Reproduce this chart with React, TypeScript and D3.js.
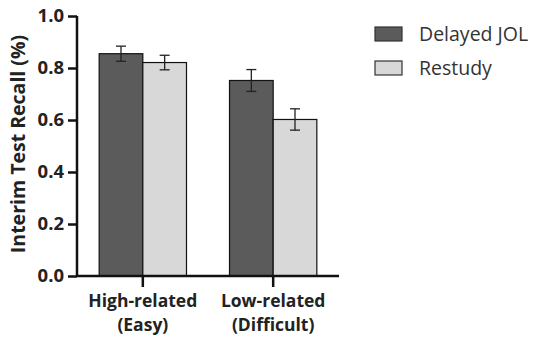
import React, { useEffect, useRef } from "react";
import * as d3 from "d3";

const groups = ["High-related\n(Easy)", "Low-related\n(Difficult)"];
const seriesNames = ["Delayed JOL", "Restudy"];
const seriesColors = ["#5b5b5b", "#d8d8d8"];
const delayedJOL = [0.855, 0.752];
const delayedErr = [0.029, 0.042];
const restudy = [0.821, 0.602];
const restudyErr = [0.028, 0.041];
const yTicks = [0, 0.2, 0.4, 0.6, 0.8, 1.0];

const font = "'Open Sans', 'Liberation Sans', Arial, sans-serif";

export default function App() {
  const ref = useRef<SVGSVGElement>(null);

  useEffect(() => {
    const svg = d3.select(ref.current);
    svg.selectAll("*").remove();

    const left = 77, right = 339, top = 16, bottom = 276;

    const x = d3.scaleBand().domain(groups).range([left, right]).paddingInner(0.33).paddingOuter(0.17);
    const xs = d3.scaleBand().domain(seriesNames).range([0, x.bandwidth()]);
    const y = d3.scaleLinear().domain([0, 1]).range([bottom, top]);

    const values = [delayedJOL, restudy];
    const errs = [delayedErr, restudyErr];

    const data = groups.flatMap((g, gi) =>
      seriesNames.map((s, si) => ({ g, s, si, v: values[si][gi], e: errs[si][gi] }))
    );

    const g = svg.append("g");

    g.selectAll("rect.bar")
      .data(data)
      .join("rect")
      .attr("class", "bar")
      .attr("x", (d) => x(d.g)! + xs(d.s)!)
      .attr("y", (d) => y(d.v))
      .attr("width", xs.bandwidth())
      .attr("height", (d) => y(0) - y(d.v))
      .attr("fill", (d) => seriesColors[d.si])
      .attr("stroke", "#111")
      .attr("stroke-width", 1.2);

    // error bars
    const eb = g.selectAll("g.err").data(data).join("g").attr("class", "err");
    eb.append("line")
      .attr("x1", (d) => x(d.g)! + xs(d.s)! + xs.bandwidth() / 2)
      .attr("x2", (d) => x(d.g)! + xs(d.s)! + xs.bandwidth() / 2)
      .attr("y1", (d) => y(d.v + d.e))
      .attr("y2", (d) => y(d.v - d.e));
    [1, -1].forEach((sgn) => {
      eb.append("line")
        .attr("x1", (d) => x(d.g)! + xs(d.s)! + xs.bandwidth() / 2 - 5)
        .attr("x2", (d) => x(d.g)! + xs(d.s)! + xs.bandwidth() / 2 + 5)
        .attr("y1", (d) => y(d.v + sgn * d.e))
        .attr("y2", (d) => y(d.v + sgn * d.e));
    });
    eb.selectAll("line").attr("stroke", "#222").attr("stroke-width", 1.3);

    // y axis
    const ya = g.append("g")
      .attr("transform", `translate(${left},0)`)
      .call(d3.axisLeft(y).tickValues(yTicks).tickFormat(d3.format(".1f")).tickSize(9).tickPadding(4));
    ya.select(".domain").attr("stroke", "#111").attr("stroke-width", 2.5)
      .attr("d", `M0,${top}V${bottom}`);
    ya.selectAll(".tick line").attr("stroke", "#111").attr("stroke-width", 2.5);
    ya.selectAll(".tick text")
      .attr("fill", "#222")
      .style("font-family", font)
      .style("font-size", "18.5px")
      .style("font-weight", "bold");

    // x axis
    const xa = g.append("g")
      .attr("transform", `translate(0,${bottom})`)
      .call(d3.axisBottom(x).tickSize(11));
    xa.selectAll(".tick text").remove();
    xa.select(".domain").attr("stroke", "#111").attr("stroke-width", 2.5)
      .attr("d", `M${left},0H${right}`);
    xa.selectAll(".tick line").attr("stroke", "#111").attr("stroke-width", 2.5);

    // two-line category labels, one text per line
    const lines = groups.flatMap((d) => d.split("\n").map((t, i) => ({ d, t, i })));
    g.selectAll("text.xl").data(lines).join("text")
      .attr("class", "xl")
      .attr("x", (l) => x(l.d)! + x.bandwidth() / 2)
      .attr("y", (l) => 307 + l.i * 24)
      .attr("text-anchor", "middle")
      .attr("fill", "#222")
      .style("font-family", font)
      .style("font-size", "17.5px")
      .style("font-weight", "bold")
      .text((l) => l.t);

    // y title
    g.append("text")
      .attr("transform", `translate(25,${144}) rotate(-90)`)
      .attr("text-anchor", "middle")
      .attr("fill", "#222")
      .style("font-family", font)
      .style("font-size", "19.5px")
      .style("font-weight", "bold")
      .text("Interim Test Recall (%)");

    // legend
    const lg = g.selectAll("g.lg").data(seriesNames).join("g")
      .attr("class", "lg")
      .attr("transform", (_d, i) => `translate(375,${27 + i * 34})`);
    lg.append("rect")
      .attr("width", 27).attr("height", 14)
      .attr("fill", (_d, i) => seriesColors[i])
      .attr("stroke", "#333").attr("stroke-width", 1.2);
    lg.append("text")
      .attr("x", 44).attr("y", 14)
      .attr("fill", "#333")
      .style("font-family", font)
      .style("font-size", "19.5px")
      .text((d) => d);
  }, []);

  return (
    <svg ref={ref} width={550} height={342} style={{ position: "absolute", left: 0, top: 0, background: "#fff" }} />
  );
}
